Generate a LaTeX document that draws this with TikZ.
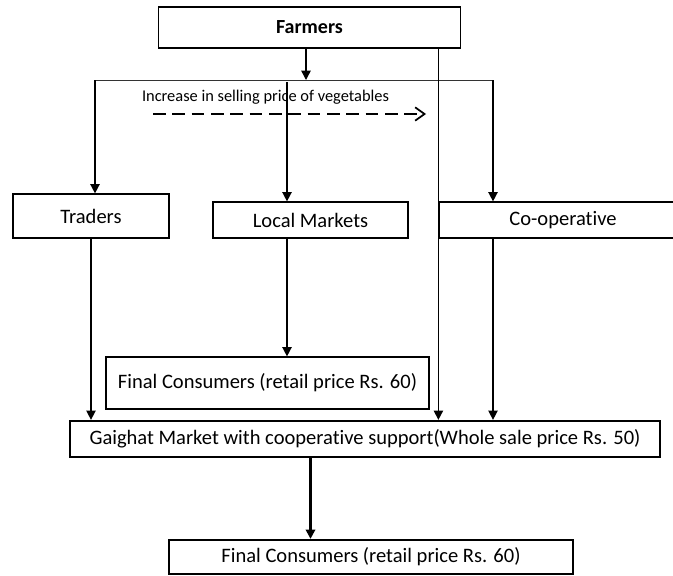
\documentclass[tikz,border=0pt]{standalone}
\usepackage{fontspec}
\setmainfont{Carlito}[Ligatures=NoCommon]
\usetikzlibrary{arrows.meta}

\begin{document}
\begin{tikzpicture}[x=0.75pt, y=-0.75pt,
  box/.style={draw=black, rectangle, inner sep=0pt, line width=0.9pt, font=\fontsize{15.4}{18}\selectfont},
  heavybox/.style={box, line width=1.7pt},
  link/.style={-{Triangle[width=7pt,length=7pt]}, line width=1.1pt},
  rail/.style={line width=0.6pt, draw=black!80}
]
\useasboundingbox (0,0) rectangle (673,575);

\node[box, minimum width=227pt, minimum height=30.75pt, font=\fontsize{15}{18}\selectfont\bfseries] (farmers) at (309.5,27.5) {Farmers};
\node[box, minimum width=117pt, minimum height=33pt] (traders) at (91,216) {Traders};
\node[box, minimum width=146.25pt, minimum height=27pt] (lm) at (310.5,220) {Local Markets};
\node[box, minimum width=186pt, minimum height=27pt] (coop) at (563,220) {Co-operative};
\node[box, minimum width=242.25pt, minimum height=39pt] (fcone) at (267.5,383) {Final Consumers (retail price Rs. 60)};
\node[heavybox, minimum width=442.5pt, minimum height=27pt] (gaighat) at (365,439) {Gaighat Market with cooperative support(Whole sale price Rs. 50)};
\node[heavybox, minimum width=303pt, minimum height=25.5pt] (fctwo) at (371,557) {Final Consumers (retail price Rs. 60)};

% branching from farmers
\coordinate (split) at (306,80);
\coordinate (busL) at (95,80);
\coordinate (busR) at (493,80);
\coordinate (lmtop) at (287,82);
\draw[link] (farmers.south -| split) -- (split);
\draw[rail] (busL) -- (busR);
\draw[link] (busL) -- (busL |- traders.north);
\draw[link] (lmtop) -- (lmtop |- lm.north);
\draw[link] (busR) -- (busR |- coop.north);
\draw[link] (farmers.south -| coop.west) -- (gaighat.north -| coop.west);

% price label
\node[font=\fontsize{12.3}{15}\selectfont] (pricetext) at (265.5,97) {Increase in selling price of vegetables};
\coordinate (priceA) at (153,114);
\coordinate (priceB) at (426,114);
\draw[-{Straight Barb[length=7pt,width=10pt]}, line width=1.3pt, dash pattern=on 9.5pt off 5pt] (priceA) -- (priceB);

% to the markets below
\draw[link] (traders.south) -- (traders.south |- gaighat.north);
\draw[link] (lmtop |- lm.south) -- (lmtop |- fcone.north);
\draw[link] (busR |- coop.south) -- (busR |- gaighat.north);
\draw[-{Triangle[width=7pt,length=7pt]}, line width=1.7pt] (gaighat.south -| lm.center) -- (fctwo.north -| lm.center);
\end{tikzpicture}
\end{document}
